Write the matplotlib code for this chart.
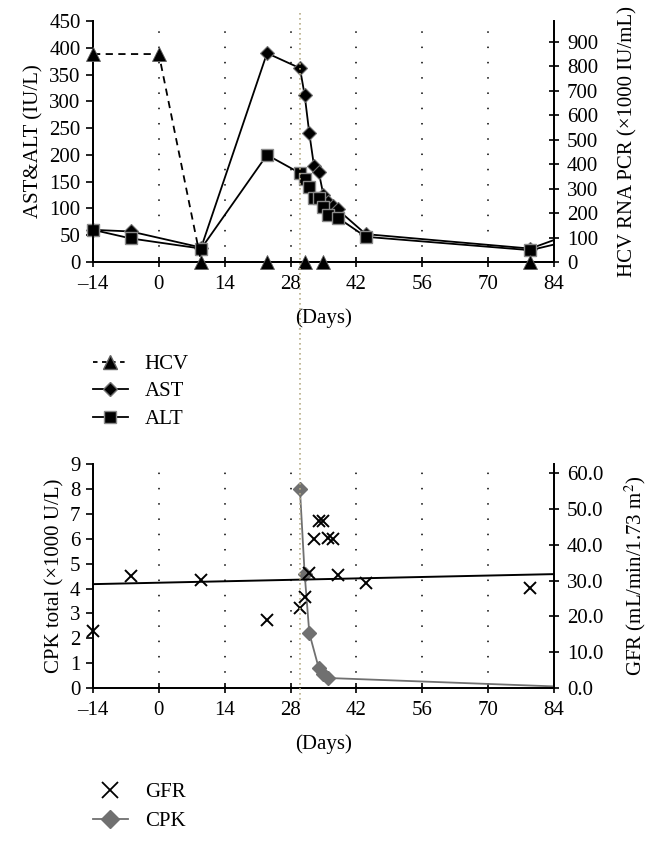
import matplotlib
matplotlib.use("Agg")
import matplotlib.pyplot as plt
from matplotlib.lines import Line2D

plt.rcParams['font.family'] = ['Liberation Serif', 'DejaVu Serif']
plt.rcParams['font.size'] = 15
plt.rcParams['mathtext.fontset'] = 'stix'

# ---- data ----
x_ticks = [-14, 0, 14, 28, 42, 56, 70, 84]

hcv_days = [-14, 0, 9, 23, 31, 35, 79, 90]
hcv_vals = [850, 850, 0, 0, 0, 0, 0, 0]          # x1000 IU/mL

ast_days = [-14, -6, 9, 23, 30, 31, 32, 33, 34, 35, 36, 37, 38, 44, 79, 90]
ast_vals = [60, 57, 27, 390, 362, 312, 240, 179, 168, 125, 112, 105, 98, 52, 25, 60]

alt_days = [-14, -6, 9, 23, 30, 31, 32, 33, 34, 35, 36, 38, 44, 79, 90]
alt_vals = [60, 44, 25, 200, 166, 155, 140, 120, 120, 103, 88, 83, 47, 22, 45]

cpk_days = [30, 31, 32, 34, 35, 36, 90]
cpk_vals = [8.0, 4.6, 2.2, 0.8, 0.55, 0.4, 0.02]   # x1000 U/L

gfr_days = [-14, -6, 9, 23, 30, 31, 32, 33, 34, 35, 36, 37, 38, 44, 79]
gfr_vals = [16.0, 31.3, 30.2, 19.0, 22.3, 25.4, 32.0, 41.6, 46.6, 46.6, 42.0, 41.6, 31.5, 29.3, 28.0]

trend_days = [-14, 84]
trend_gfr = [29.0, 31.8]

marker_day = 30
XMAX = 84

fig = plt.figure(figsize=(6.57, 8.41), dpi=100)


def style_axes(ax, ax2):
    ax.set_xlim(-14, XMAX)
    ax2.set_xlim(-14, XMAX)
    ax.set_xticks(x_ticks)
    ax.set_xticklabels([str(t).replace('-', '\u2013') for t in x_ticks])
    ax.spines['top'].set_visible(False)
    ax2.spines['top'].set_visible(False)
    for a in (ax, ax2):
        for s in a.spines.values():
            s.set_linewidth(1.3)
    ax.xaxis.grid(True, linestyle=(0, (1, 9)), color='black', linewidth=1.1)
    ax.tick_params(axis='x', direction='inout', length=7, width=1.2, pad=6)
    ax.tick_params(axis='y', direction='out', length=5, width=1.2, pad=4)
    ax2.tick_params(axis='y', direction='inout', length=7, width=1.2, pad=6)
    ax.set_xlabel('(Days)', labelpad=10)


def plot_series(ax, days, vals, line_kw, mark_kw):
    # line is clipped at the axes edge, markers are not
    ax.plot(days, vals, marker='none', **line_kw)
    pts = [(d, v) for d, v in zip(days, vals) if d <= XMAX]
    ax.plot([p[0] for p in pts], [p[1] for p in pts], ls='none',
            clip_on=False, **mark_kw)


# ---- top chart ----
ax1 = fig.add_axes([0.1416, 0.6885, 0.7014, 0.2865])
ax1b = ax1.twinx()
ax1.set_ylim(0, 450)
ax1.set_yticks(range(0, 451, 50))
ax1b.set_ylim(0, 985)
ax1b.set_yticks(range(0, 901, 100))
style_axes(ax1, ax1b)
ax1.set_ylabel('AST&ALT (IU/L)', labelpad=4)
ax1b.set_ylabel('HCV RNA PCR (\u00d71000 IU/mL)', labelpad=14)

plot_series(ax1, ast_days, ast_vals, dict(color='black', lw=1.3, zorder=4),
            dict(marker='D', ms=7.5, mfc='black', mec='#707070', mew=0.8, zorder=4))
plot_series(ax1, alt_days, alt_vals, dict(color='black', lw=1.3, zorder=5),
            dict(marker='s', ms=9, mfc='black', mec='#8a8a8a', mew=1.0, zorder=5))
plot_series(ax1b, hcv_days, hcv_vals, dict(color='black', lw=1.3, ls=(0, (4, 3)), zorder=6),
            dict(marker='^', ms=10, mfc='black', mec='#606060', mew=0.6, zorder=6))

# ---- bottom chart ----
ax2 = fig.add_axes([0.1416, 0.182, 0.7014, 0.266])
ax2b = ax2.twinx()
ax2.set_ylim(0, 9)
ax2.set_yticks(range(0, 10))
ax2b.set_ylim(0, 62.5)
ax2b.set_yticks(range(0, 61, 10))
ax2b.set_yticklabels(['%.1f' % v for v in range(0, 61, 10)])
style_axes(ax2, ax2b)
ax2.set_ylabel('CPK total (\u00d71000 U/L)', labelpad=4)
ax2b.set_ylabel('GFR (mL/min/1.73 m$^2$)', labelpad=14)

plot_series(ax2, cpk_days, cpk_vals, dict(color='#707070', lw=1.3, zorder=4),
            dict(marker='D', ms=7.5, mfc='#707070', mec='#707070', zorder=4))
ax2b.plot(gfr_days, gfr_vals, ls='none', marker='x', ms=9, mew=1.4,
          color='black', zorder=5, clip_on=False)
ax2b.plot(trend_days, trend_gfr, color='black', lw=1.4, zorder=3)

# vertical dotted marker spanning both charts
xf = ax1.transData.transform((marker_day, 0))[0] / fig.bbox.width
fig.add_artist(Line2D([xf, xf], [0.985, 0.168], transform=fig.transFigure,
                      color='#b8ad88', lw=1.2, ls=(0, (1, 2))))

# ---- legends ----
top_handles = [
    Line2D([], [], color='black', lw=1.3, ls=(0, (2.5, 2.5)), marker='^', ms=10,
           mfc='black', mec='#606060'),
    Line2D([], [], color='black', lw=1.3, marker='D', ms=7.5, mfc='black', mec='#707070'),
    Line2D([], [], color='black', lw=1.3, marker='s', ms=9, mfc='black', mec='#8a8a8a'),
]
fig.legend(top_handles, ['HCV', 'AST', 'ALT'], loc='upper left',
           bbox_to_anchor=(0.125, 0.591), frameon=False, handlelength=1.7,
           handletextpad=0.8, labelspacing=0.38, borderpad=0)

bot_handles = [
    Line2D([], [], ls='none', color='black', marker='x', ms=11, mew=1.3),
    Line2D([], [], color='#707070', lw=1.3, marker='D', ms=9, mfc='#707070', mec='#707070'),
]
fig.legend(bot_handles, ['GFR', 'CPK'], loc='upper left',
           bbox_to_anchor=(0.125, 0.082), frameon=False, handlelength=1.7,
           handletextpad=0.8, labelspacing=0.45, borderpad=0)

fig.savefig('out.png', dpi=100)
